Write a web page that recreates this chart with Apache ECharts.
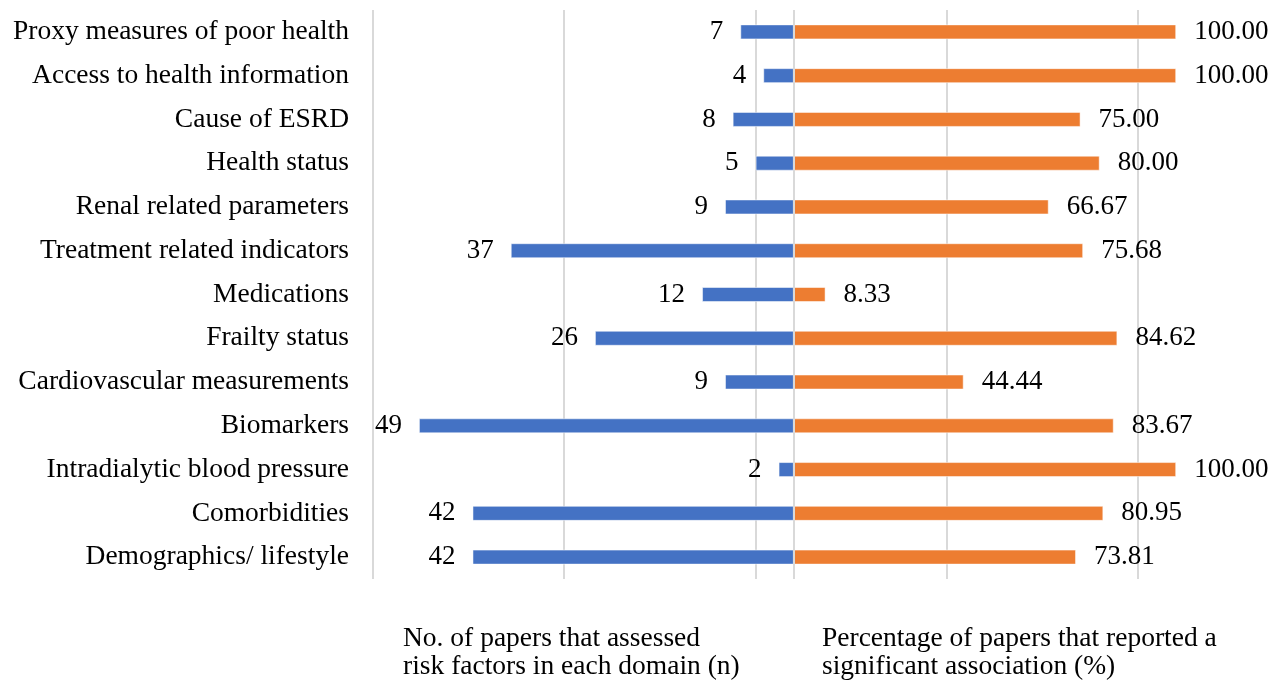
<!DOCTYPE html>
<html>
<head>
<meta charset="utf-8">
<script src="https://cdn.jsdelivr.net/npm/echarts@6/dist/echarts.min.js"></script>
<style>
  html, body { margin: 0; padding: 0; background: #ffffff; }
  #chart { width: 1281px; height: 680px; }
</style>
</head>
<body>
<div id="chart"></div>
<script>
// Categories listed top to bottom as shown
const categories = [
  'Proxy measures of poor health',
  'Access to health information',
  'Cause of ESRD',
  'Health status',
  'Renal related parameters',
  'Treatment related indicators',
  'Medications',
  'Frailty status',
  'Cardiovascular measurements',
  'Biomarkers',
  'Intradialytic blood pressure',
  'Comorbidities',
  'Demographics/ lifestyle'
];
const paperCounts = [7, 4, 8, 5, 9, 37, 12, 26, 9, 49, 2, 42, 42];
const percentSignificant = [100.00, 100.00, 75.00, 80.00, 66.67, 75.68, 8.33, 84.62, 44.44, 83.67, 100.00, 80.95, 73.81];
const seriesNames = [
  'No. of papers that assessed\nrisk factors in each domain (n)',
  'Percentage of papers that reported a\nsignificant association (%)'
];

const FONT = '"Liberation Serif", "Times New Roman", serif';
const chart = echarts.init(document.getElementById('chart'), null, { renderer: 'canvas' });

chart.setOption({
  backgroundColor: '#ffffff',
  animation: false,
  title: [
    { text: seriesNames[0], left: 398, top: 620, padding: 5,
      textStyle: { fontFamily: FONT, fontSize: 27.5, fontWeight: 'normal', color: '#000', lineHeight: 28 } },
    { text: seriesNames[1], left: 817, top: 620, padding: 5,
      textStyle: { fontFamily: FONT, fontSize: 27.5, fontWeight: 'normal', color: '#000', lineHeight: 28 } }
  ],
  grid: { left: 373, top: 10, width: 908, height: 569, containLabel: false },
  xAxis: [
    {
      // counts axis, growing to the left
      type: 'value', inverse: true, min: -63.66, max: 55,
      show: false, splitLine: { show: false }
    },
    {
      // percentage axis, provides gridlines
      type: 'value', min: -110, max: 127.4, interval: 50,
      axisLine: { show: false }, axisTick: { show: false }, axisLabel: { show: false },
      splitLine: { show: true, showMaxLine: false, lineStyle: { color: '#d9d9d9', width: 2 } }
    }
  ],
  yAxis: {
    type: 'category', data: categories, inverse: true,
    axisLine: { show: false }, axisTick: { show: false },
    axisLabel: { fontFamily: FONT, fontSize: 27.5, color: '#000', margin: 24, padding: [3, 0, 0, 0] }
  },
  series: [
    {
      name: seriesNames[0], type: 'bar', xAxisIndex: 0, data: paperCounts,
      barWidth: 15, barGap: '-100%',
      itemStyle: { color: '#4472C4', borderColor: 'rgba(255,255,255,0.5)', borderWidth: 1 },
      label: { show: true, position: 'left', distance: 17, fontFamily: FONT, fontSize: 27, color: '#000',
        padding: [3, 0, 0, 0] }
    },
    {
      name: seriesNames[1], type: 'bar', xAxisIndex: 1, data: percentSignificant,
      barWidth: 15, barGap: '-100%',
      itemStyle: { color: '#ED7D31', borderColor: 'rgba(255,255,255,0.5)', borderWidth: 1 },
      label: { show: true, position: 'right', distance: 18, fontFamily: FONT, fontSize: 27, color: '#000',
        padding: [3, 0, 0, 0], formatter: p => p.value.toFixed(2) },
      markLine: {
        silent: true, symbol: 'none', label: { show: false },
        lineStyle: { color: '#d9d9d9', width: 2, type: 'solid' },
        data: [{ xAxis: 0 }]
      }
    }
  ]
});
</script>
</body>
</html>
